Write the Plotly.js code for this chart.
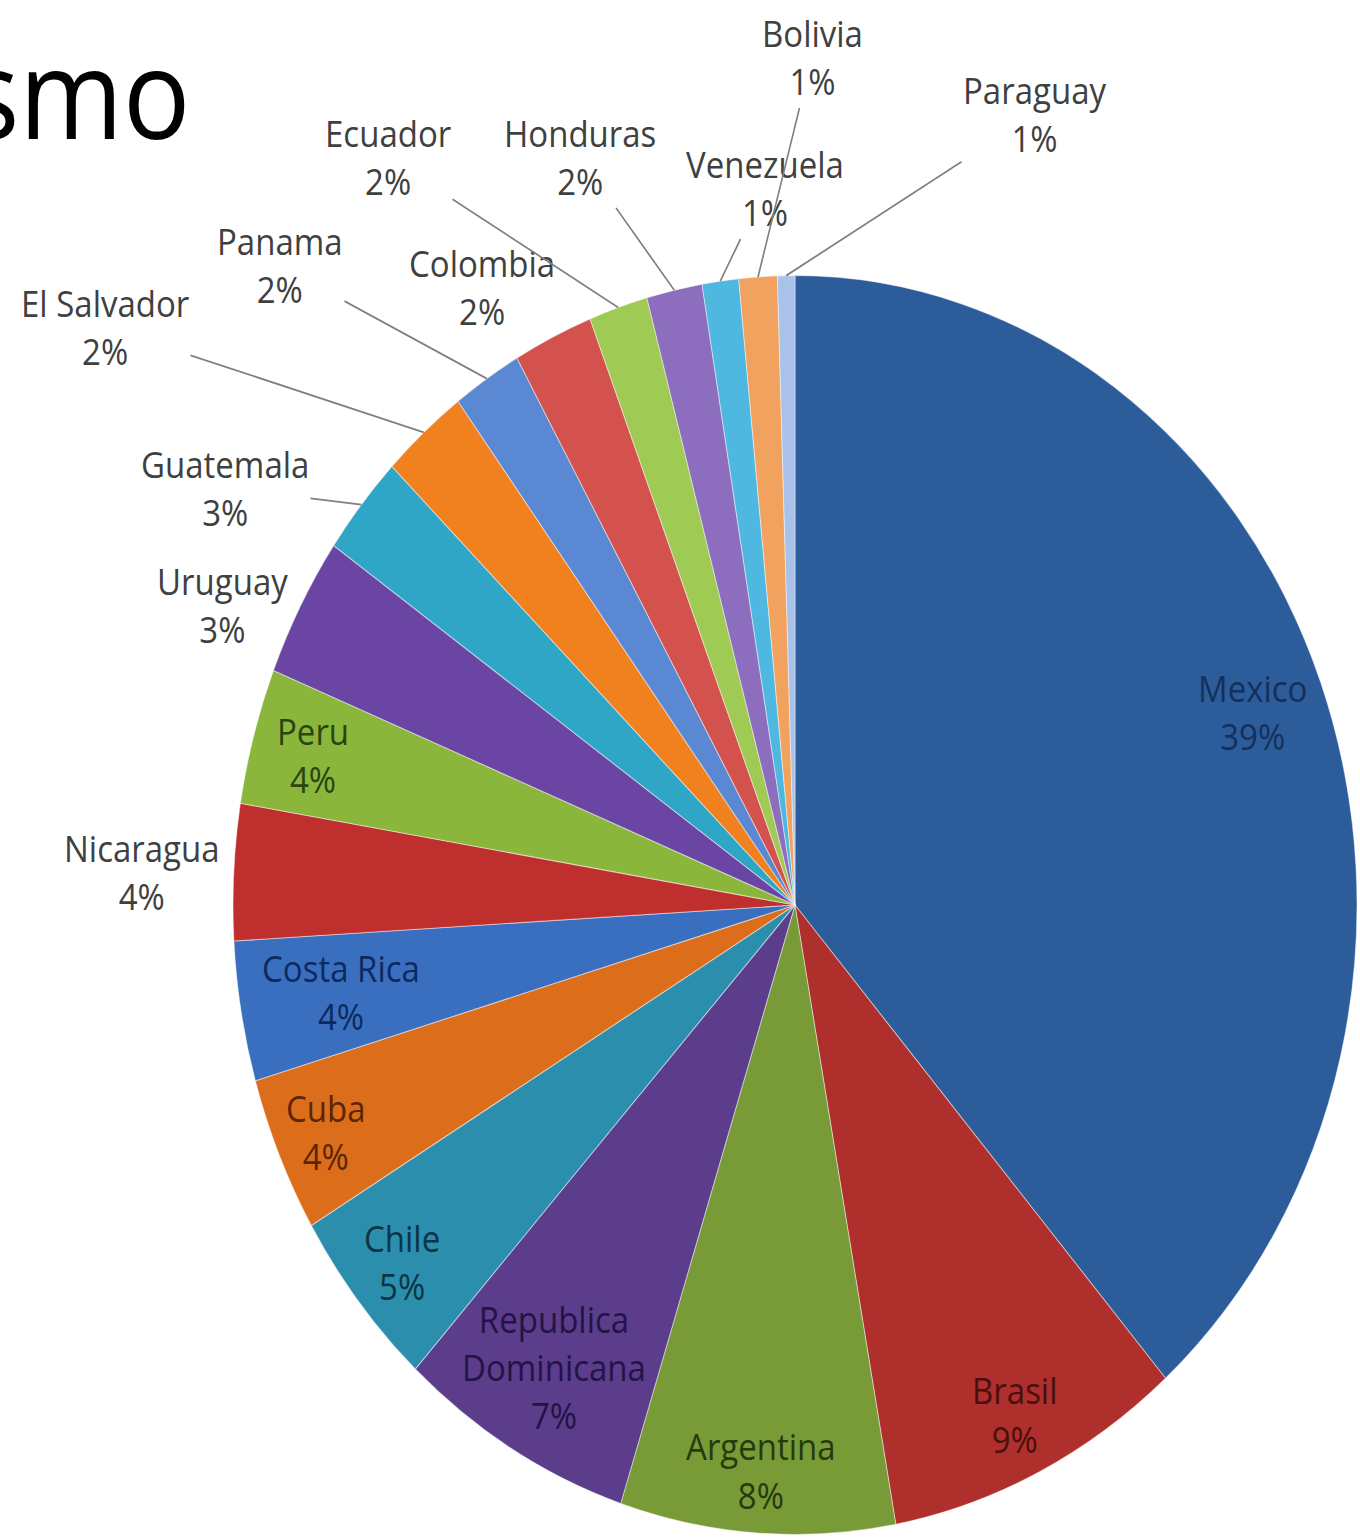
<!DOCTYPE html>
<html>
<head>
<meta charset="utf-8">
<script src="https://cdn.plot.ly/plotly-3.0.1.min.js"></script>
<style>
  html, body { margin: 0; padding: 0; background: #ffffff; overflow: hidden; width: 1360px; height: 1537px; }
  #chart { width: 1420px; height: 1400px; transform: scaleY(1.12); transform-origin: 0 0; }
</style>
</head>
<body>
<div id="chart"></div>
<script>
// Countries in clockwise order from 12 o'clock
const countries = ['Mexico', 'Brasil', 'Argentina', 'Republica<br>Dominicana', 'Chile', 'Cuba',
  'Costa Rica', 'Nicaragua', 'Peru', 'Uruguay', 'Guatemala', 'El Salvador', 'Panama',
  'Colombia', 'Ecuador', 'Honduras', 'Venezuela', 'Bolivia', 'Paraguay'];
// Slice shares (%)
const shares = [38.6, 8.6, 7.9, 6.8, 4.7, 4.0, 3.6, 3.5, 3.5, 3.6, 2.6, 2.5, 2.0, 2.3, 1.7, 1.6, 1.05, 1.1, 0.5];
// Percent labels as printed on the chart
const pctLabels = ['39%', '9%', '8%', '7%', '5%', '4%', '4%', '4%', '4%', '3%', '3%', '2%', '2%',
  '2%', '2%', '2%', '1%', '1%', '1%'];

// ---- styling / layout (not data) ----
const sliceColors = ['#2D5C9A', '#AE2F2B', '#789A37', '#5B3D8B', '#2C8EAD', '#DC6D1B',
  '#3A6FC0', '#BF2F2D', '#8AB63C', '#6B45A4', '#30A6C6', '#F1801F', '#5B88D2',
  '#D4524E', '#9FCB55', '#8C6DBE', '#4FB8E0', '#F0A25E', '#A9C2EA'];
// Inside labels: text colour and radial position (fraction of radius)
const insideStyle = {
  'Mexico':                { color: '#14305C', r: 0.87 },
  'Brasil':                { color: '#4A0F0E', r: 0.90 },
  'Argentina':             { color: '#263A0E', r: 0.90 },
  'Republica<br>Dominicana': { color: '#241344', r: 0.85 },
  'Chile':                 { color: '#0B3444', r: 0.90 },
  'Cuba':                  { color: '#5A2606', r: 0.91 },
  'Costa Rica':            { color: '#0D2A5E', r: 0.82 },
  'Peru':                  { color: '#2A4510', r: 0.89 }
};
// Outside label block centres (page pixels) and whether a leader line is drawn
const outsidePlacement = {
  'Nicaragua':   { x: 142, y: 872, line: false },
  'Uruguay':     { x: 222, y: 605, line: false },
  'Guatemala':   { x: 225, y: 488, line: true },
  'El Salvador': { x: 105, y: 327, line: true },
  'Panama':      { x: 280, y: 266, line: true },
  'Colombia':    { x: 482, y: 287, line: true },
  'Ecuador':     { x: 388, y: 157, line: true },
  'Honduras':    { x: 580, y: 157, line: true },
  'Venezuela':   { x: 765, y: 188, line: true },
  'Bolivia':     { x: 812, y: 57,  line: true },
  'Paraguay':    { x: 1035, y: 114, line: true }
};
const SY = 1.12;             // vertical stretch of the whole picture
const W = 1420, H = 1400;    // unstretched plot size
const cx = 795, cy = 905 / SY, R = 562;
const FONT = 'Open Sans, sans-serif';
const FS = 33;

const total = shares.reduce((a, b) => a + b, 0);
function edgePoint(midFrac, rf) {
  const th = 2 * Math.PI * midFrac;
  return [cx + rf * R * Math.sin(th), cy - rf * R * Math.cos(th)];
}

const annotations = [];
let cum = 0;
countries.forEach((name, i) => {
  const mid = (cum + shares[i] / 2) / total;
  cum += shares[i];
  const txt = name + '<br>' + pctLabels[i];
  const inside = insideStyle[name];
  if (inside) {
    const [px, py] = edgePoint(mid, inside.r);
    annotations.push({
      text: txt, xref: 'paper', yref: 'paper', x: px / W, y: 1 - py / H,
      xanchor: 'center', yanchor: 'middle', showarrow: false, align: 'center',
      font: { family: FONT, size: FS, color: inside.color }
    });
  } else {
    const place = outsidePlacement[name];
    const [px, py] = edgePoint(mid, 1.0);
    const lx = place.x, ly = place.y / SY;
    if (place.line) {
      annotations.push({
        text: txt, xref: 'paper', yref: 'paper', x: px / W, y: 1 - py / H,
        ax: lx - px, ay: ly - py, showarrow: true, arrowhead: 0, arrowwidth: 1.6,
        arrowcolor: '#7F7F7F', standoff: 0, align: 'center',
        font: { family: FONT, size: FS, color: '#404040' }
      });
    } else {
      annotations.push({
        text: txt, xref: 'paper', yref: 'paper', x: lx / W, y: 1 - ly / H,
        xanchor: 'center', yanchor: 'middle', showarrow: false, align: 'center',
        font: { family: FONT, size: FS, color: '#404040' }
      });
    }
  }
});

annotations.push({
  text: 'smo', xref: 'paper', yref: 'paper',
  x: 192 / W, y: 1 - 81 / H, xanchor: 'right', yanchor: 'middle',
  showarrow: false,
  font: { family: FONT, size: 112, color: '#000000' }
});

const trace = {
  type: 'pie',
  labels: countries,
  values: shares,
  sort: false,
  direction: 'clockwise',
  rotation: 0,
  textinfo: 'none',
  marker: { colors: sliceColors, line: { color: 'rgba(255,255,255,0.45)', width: 1 } },
  domain: {
    x: [(cx - R) / W, (cx + R) / W],
    y: [(H - cy - R) / H, (H - cy + R) / H]
  },
  showlegend: false,
  hoverinfo: 'none'
};

const layout = {
  width: W, height: H,
  margin: { l: 0, r: 0, t: 0, b: 0 },
  paper_bgcolor: '#ffffff',
  showlegend: false,
  annotations: annotations
};

Plotly.newPlot('chart', [trace], layout, { staticPlot: true, displayModeBar: false });
</script>
</body>
</html>
